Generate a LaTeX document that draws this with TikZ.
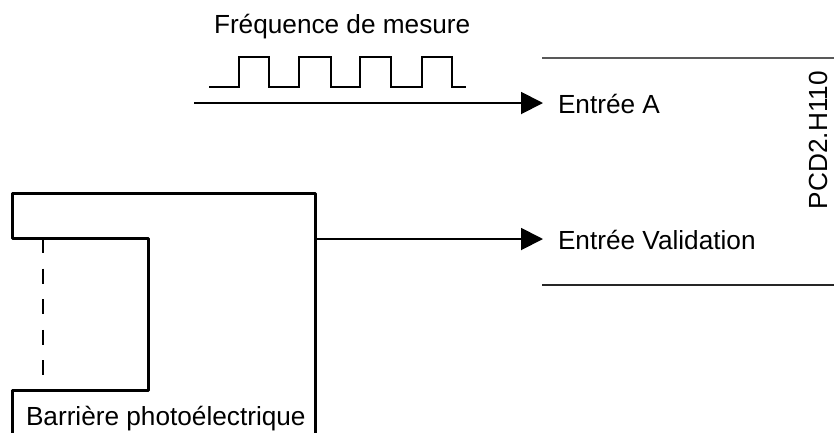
\documentclass[tikz,border=0pt]{standalone}
\usepackage{fontspec}
\setmainfont{Liberation Sans}
\usetikzlibrary{arrows.meta}
\tikzset{
  x=1pt,y=-1pt,
  lbl/.style={inner sep=0pt,outer sep=0pt,font=\fontsize{26.2}{30}\selectfont},
  thick outline/.style={line width=3pt,line join=round,line cap=round},
  pulse/.style={line width=1.9pt,line join=miter},
  signal/.style={line width=1.9pt,-{Triangle[length=22pt,width=22pt]}},
  rail/.style={line width=1.5pt},
}
\begin{document}
\begin{tikzpicture}
\useasboundingbox (0,0) rectangle (834,432);
% coordinates
\coordinate (srcA) at (194,103);
\coordinate (tipA) at (543,103);
\coordinate (srcV) at (316,239);
\coordinate (tipV) at (543,239);
\coordinate (railTL) at (542,58);
\coordinate (railTR) at (834,58);
\coordinate (railBL) at (542,285);
\coordinate (railBR) at (834,285);
\coordinate (beamT) at (43,238);
\coordinate (beamB) at (43,377);
% texts
\node[lbl,anchor=base west] (freq) at (214,33) {Fréquence de mesure};
\node[lbl,anchor=base west] (ea) at (558,113) {Entrée A};
\node[lbl,anchor=base west] (ev) at (558,249) {Entrée Validation};
\node[lbl,anchor=base west] (bp) at (26,425) {Barrière photoélectrique};
\node[lbl,anchor=base west,rotate=90] (pcd) at (827,209) {PCD2.H110};
% rails
\draw[rail,draw=black!65] (railTL) -- (railTR);
\draw[rail,draw=black!85] (railBL) -- (railBR);
% pulse train
\draw[pulse] (209,87) -- (239,87) -- (239,57) -- (269,57) -- (269,87) -- (299,87) -- (299,57) -- (331,57) -- (331,87) -- (360,87) -- (360,57) -- (391,57) -- (391,87) -- (422,87) -- (422,57) -- (452,57) -- (452,87) -- (466,87);
% arrows
\draw[signal] (srcA) -- (tipA);
\draw[signal] (srcV) -- (tipV);
% barrier
\draw[thick outline] (12,433) -- (12,390) -- (148,390) -- (148,238) -- (12,238) -- (12,193) -- (315.5,193) -- (315.5,433);
\draw[line width=2.2pt,dash pattern=on 15pt off 15.6pt] (beamT) -- (beamB);
\end{tikzpicture}
\end{document}
